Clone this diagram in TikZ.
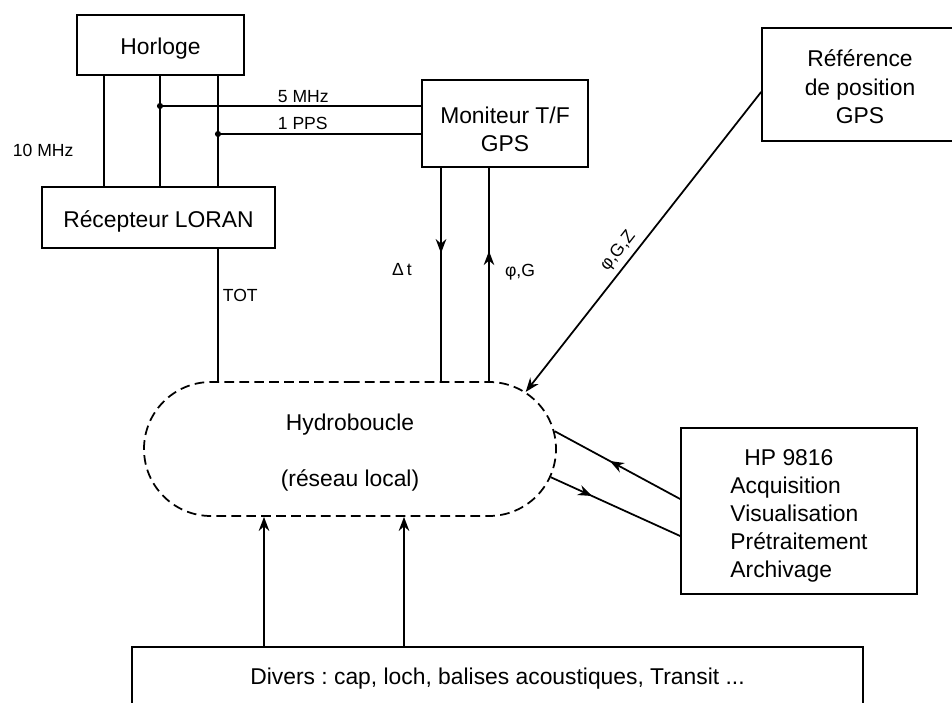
\documentclass[tikz,border=0pt]{standalone}
\usepackage{fontspec}
\setmainfont{Liberation Sans}
\usetikzlibrary{arrows.meta,shapes.misc,decorations.markings,calc}

\newcommand{\bas}[3][c]{\raisebox{-#2}[\height][\depth]{\begin{tabular}{@{}#1@{}}#3\end{tabular}}}

\begin{document}
\frenchspacing
\begin{tikzpicture}[
  font=\fontsize{13}{16}\selectfont,
  line width=1pt,
  >={Stealth[length=8pt,width=6pt]},
  bloc/.style={draw,line width=1pt,inner sep=0pt,align=center},
  sig/.style={font=\fontsize{10}{12}\selectfont,inner sep=0pt},
  dot/.style={circle,fill,inner sep=0pt,minimum size=3.5pt},
  midarrow/.style={postaction={decorate},decoration={markings,mark=at position #1 with {\arrow{Stealth[length=8pt,width=6pt]}}}}
]
  \clip (0,0) rectangle (19.04,14.06);

  \node[bloc,minimum width=3.34cm,minimum height=1.2cm] (horloge) at (3.21,13.16) {\bas{.08cm}{Horloge}};
  \node[bloc,minimum width=4.66cm,minimum height=1.22cm] (loran) at (3.17,9.71) {\bas{.08cm}{Récepteur LORAN}};
  \node[bloc,minimum width=3.32cm,minimum height=1.74cm] (moniteur) at (10.1,11.59) {\bas{.16cm}{Moniteur T/F\\GPS}};
  \node[bloc,minimum width=3.92cm,minimum height=2.26cm] (refgps) at (17.2,12.37) {\bas{.1cm}{Référence\\de position\\GPS}};
  \node[bloc,rounded rectangle,dash pattern=on 5.5pt off 3pt,minimum width=8.24cm,minimum height=2.68cm] (hydro) at (7.0,5.08) {\bas{.08cm}{Hydroboucle\\[16pt](réseau local)}};
  \node[bloc,minimum width=4.72cm,minimum height=3.32cm] (hp) at (15.98,3.84) {\bas[l]{.1cm}{\hspace*{.28cm}HP 9816\\Acquisition\\Visualisation\\Prétraitement\\Archivage}};
  \node[bloc,minimum width=14.62cm,minimum height=1.28cm] (divers) at (9.95,0.48) {Divers : cap, loch, balises acoustiques, Transit ...};

  \node[dot] (j5) at (3.2,11.94) {};
  \node[dot] (j1) at (4.36,11.38) {};
  \coordinate (xdt) at (8.82,0);
  \coordinate (xpg) at (9.78,0);

  \foreach \x in {2.08,3.2,4.36}
    \draw (\x,0 |- horloge.south) -- (\x,0 |- loran.north);
  \draw (j5.center) -- (j5.center -| moniteur.west);
  \draw (j1.center) -- (j1.center -| moniteur.west);
  \draw (loran.south -| j1) -- (hydro.north -| j1);

  \draw[midarrow=.4] (moniteur.south -| xdt) -- (hydro.north -| xdt);
  \draw[midarrow=.61] (hydro.north -| xpg) -- (moniteur.south -| xpg);
  \draw[->] ($(refgps.west)+(0,-.15)$) -- node[sig,sloped,above=3pt,pos=.56] (lpgz) {φ,G,Z} (hydro.18);

  \draw[midarrow=.56] ($(hp.west)+(0,.24)$) -- (hydro.5);
  \draw[midarrow=.32] (hydro.-8) -- ($(hp.west)+(0,-.5)$);

  \foreach \x in {5.28,8.08}
    \draw[->] (\x,0 |- divers.north) -- (\x,0 |- hydro.south);

  \node[sig,anchor=west] (l10) at (0.24,11.06) {10 MHz};
  \node[sig,anchor=west] (l5) at (5.54,12.12) {5 MHz};
  \node[sig,anchor=west] (lpps) at (5.54,11.6) {1 PPS};
  \node[sig,anchor=west] (ltot) at (4.44,8.16) {TOT};
  \node[sig] (ldt) at (8.04,8.66) {Δ\,t};
  \node[sig] (lpg) at (10.4,8.62) {φ,G};
\end{tikzpicture}
\end{document}
